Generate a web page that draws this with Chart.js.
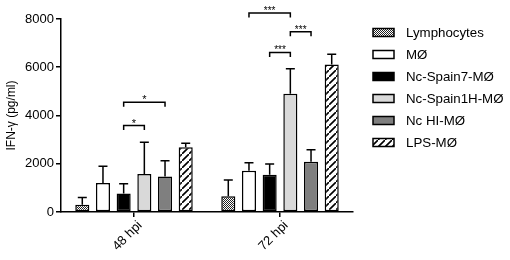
<!DOCTYPE html>
<html>
<head>
<meta charset="utf-8">
<script src="https://cdn.jsdelivr.net/npm/chart.js@4/dist/chart.umd.min.js"></script>
<style>
  html, body { margin: 0; padding: 0; background: #fff; }
  #wrap { width: 510px; height: 260px; }
</style>
</head>
<body>
<div id="wrap"><canvas id="chart-ifn"></canvas></div>
<script>
// Data
const CATEGORIES = ["48 hpi", "72 hpi"];
const GROUP_NAMES = ["Lymphocytes", "MØ", "Nc-Spain7-MØ", "Nc-Spain1H-MØ", "Nc HI-MØ", "LPS-MØ"];

const LYMPH = [300, 650];
const MO = [1200, 1710];
const SPAIN7 = [760, 1540];
const SPAIN1H = [1570, 4900];
const NC_HI = [1470, 2080];
const LPS = [2680, 6110];

// upper error (SD) for each bar
const LYMPH_SD = [300, 670];
const MO_SD = [690, 330];
const SPAIN7_SD = [410, 450];
const SPAIN1H_SD = [1320, 1040];
const NC_HI_SD = [655, 500];
const LPS_SD = [170, 430];

const Y_TICKS = [0, 2000, 4000, 6000, 8000];

// significance brackets: category, from dataset, to dataset, height, label
const SIG_CAT = [0, 0, 1, 1, 1];
const SIG_FROM = [2, 2, 2, 3, 1];
const SIG_TO = [3, 4, 3, 4, 3];
const SIG_Y = [3580, 4550, 6610, 7470, 8250];
const SIG_LABEL = ["*", "*", "***", "***", "***"];

const FONT = "'Liberation Sans', Arial, sans-serif";

//---------------------------------------------------------
// Patterns
//---------------------------------------------------------
const checkerPattern = () => {
	const c = document.createElement("canvas");
	c.width = 2;
	c.height = 2;
	const x = c.getContext("2d");
	x.fillStyle = "#fff";
	x.fillRect(0, 0, 2, 2);
	x.fillStyle = "#222";
	x.fillRect(0, 0, 1, 1);
	x.fillRect(1, 1, 1, 1);
	return x.createPattern(c, "repeat");
};

const stripePattern = () => {
	const s = 7;
	const c = document.createElement("canvas");
	c.width = s;
	c.height = s;
	const x = c.getContext("2d");
	x.fillStyle = "#fff";
	x.fillRect(0, 0, s, s);
	x.strokeStyle = "#000";
	x.lineWidth = 1.6;
	x.beginPath();
	x.moveTo(-1, s + 1);
	x.lineTo(s + 1, -1);
	x.moveTo(-2, 1);
	x.lineTo(1, -2);
	x.moveTo(s - 1, s + 2);
	x.lineTo(s + 2, s - 1);
	x.stroke();
	return x.createPattern(c, "repeat");
};

const FILLS = [checkerPattern(), "#ffffff", "#000000", "#d9d9d9", "#7f7f7f", stripePattern()];
const VALUES = [LYMPH, MO, SPAIN7, SPAIN1H, NC_HI, LPS];
const ERRORS = [LYMPH_SD, MO_SD, SPAIN7_SD, SPAIN1H_SD, NC_HI_SD, LPS_SD];

//---------------------------------------------------------
// Plugins
//---------------------------------------------------------
const errorBars = {
	id: "errorBars",
	afterDatasetsDraw(chart) {
		const { ctx, scales } = chart;
		ctx.save();
		ctx.strokeStyle = "#000";
		ctx.lineWidth = 1.5;
		chart.data.datasets.forEach((ds, di) => {
			const meta = chart.getDatasetMeta(di);
			meta.data.forEach((bar, i) => {
				const top = scales.y.getPixelForValue(ds.data[i] + ERRORS[di][i]);
				ctx.beginPath();
				ctx.moveTo(bar.x, bar.y);
				ctx.lineTo(bar.x, top);
				ctx.moveTo(bar.x - 4.5, top);
				ctx.lineTo(bar.x + 4.5, top);
				ctx.stroke();
			});
		});
		ctx.restore();
	},
};

const sigBrackets = {
	id: "sigBrackets",
	afterDatasetsDraw(chart) {
		const { ctx, scales } = chart;
		ctx.save();
		ctx.strokeStyle = "#000";
		ctx.fillStyle = "#000";
		ctx.lineWidth = 1.5;
		ctx.textAlign = "center";
		ctx.textBaseline = "bottom";
		SIG_Y.forEach((val, k) => {
			const x1 = chart.getDatasetMeta(SIG_FROM[k]).data[SIG_CAT[k]].x;
			const x2 = chart.getDatasetMeta(SIG_TO[k]).data[SIG_CAT[k]].x;
			const y = scales.y.getPixelForValue(val);
			ctx.beginPath();
			ctx.moveTo(x1, y + 4.5);
			ctx.lineTo(x1, y);
			ctx.lineTo(x2, y);
			ctx.lineTo(x2, y + 4.5);
			ctx.stroke();
			ctx.font = `${SIG_LABEL[k].length > 1 ? 10 : 11}px ${FONT}`;
			ctx.fillText(SIG_LABEL[k], (x1 + x2) / 2, y + (SIG_LABEL[k].length > 1 ? 3 : 3.5));
		});
		ctx.restore();
	},
};

// Legend drawn to the right of the plot
const sideLegend = {
	id: "sideLegend",
	afterDraw(chart) {
		const { ctx } = chart;
		const left = 373;
		ctx.save();
		ctx.font = `13.3px ${FONT}`;
		ctx.textBaseline = "middle";
		ctx.textAlign = "left";
		chart.data.datasets.forEach((ds, i) => {
			const cy = 32.5 + i * 22;
			ctx.fillStyle = ds.backgroundColor;
			ctx.fillRect(left, cy - 4, 21, 8);
			ctx.strokeStyle = "#000";
			ctx.lineWidth = 1.5;
			ctx.strokeRect(left, cy - 4, 21, 8);
			ctx.fillStyle = "#000";
			ctx.fillText(ds.label, left + 33, cy + 0.5);
		});
		ctx.restore();
	},
};

//---------------------------------------------------------
// Chart
//---------------------------------------------------------
const CHART_DATA = {
	labels: CATEGORIES,
	datasets: GROUP_NAMES.map((name, i) => ({
		label: name,
		data: VALUES[i],
		backgroundColor: FILLS[i],
		borderColor: "#000",
		borderWidth: 1.5,
		borderSkipped: false,
		categoryPercentage: 0.85,
		barPercentage: 0.68,
	})),
};

const CHART_CONFIG = {
	type: "bar",
	data: CHART_DATA,
	options: {
		animation: false,
		responsive: true,
		maintainAspectRatio: false,
		layout: {
			padding: { top: 19, left: 4, bottom: 5, right: 157 },
		},
		scales: {
			x: {
				border: { display: true, color: "#000", width: 1.5 },
				grid: { display: true, drawOnChartArea: false, drawTicks: true, tickLength: 5, color: "#000", lineWidth: 1.5, offset: false },
				ticks: {
					color: "#000",
					font: { family: FONT, size: 13 },
					minRotation: 45,
					maxRotation: 45,
					padding: 1,
					labelOffset: 6,
				},
			},
			y: {
				min: 0,
				max: 8000,
				border: { display: true, color: "#000", width: 1.5 },
				grid: { display: true, drawOnChartArea: false, drawTicks: true, tickLength: 5, color: "#000", lineWidth: 1.5 },
				afterBuildTicks: (axis) => {
					axis.ticks = Y_TICKS.map((v) => ({ value: v }));
				},
				afterFit: (axis) => {
					axis.width = 57;
				},
				ticks: {
					color: "#000",
					font: { family: FONT, size: 13 },
					padding: 2,
					callback: (v) => String(v),
				},
				title: {
					display: true,
					text: "IFN-γ (pg/ml)",
					color: "#000",
					font: { family: FONT, size: 12 },
					padding: { top: 0, bottom: 4 },
				},
			},
		},
		plugins: {
			legend: { display: false },
			tooltip: { enabled: false },
		},
	},
	plugins: [errorBars, sigBrackets, sideLegend],
};

new Chart(document.getElementById("chart-ifn"), CHART_CONFIG);
</script>
</body>
</html>
